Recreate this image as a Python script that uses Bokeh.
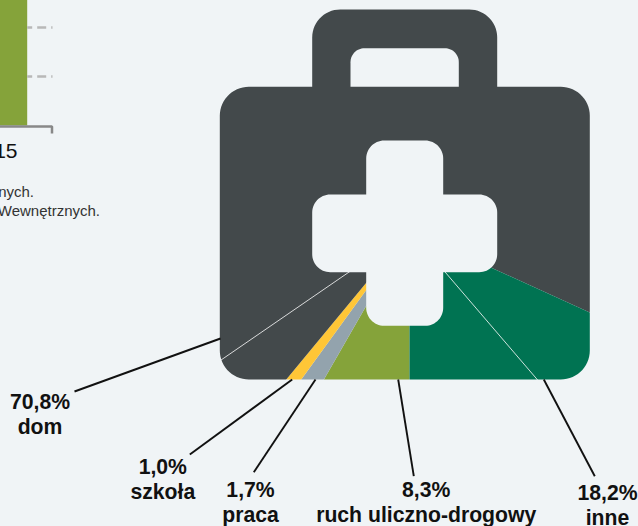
import numpy as np
from bokeh.plotting import figure
from bokeh.embed import file_html
from bokeh.resources import INLINE
from bokeh.core.properties import value

# Chart data, clockwise from straight down
CATEGORIES = ["ruch uliczno-drogowy", "praca", "szkoła", "dom", "inne"]
SHARES = [8.3, 1.7, 1.0, 70.8, 18.2]
COLORS = ["#85A33A", "#93A3AD", "#FFC637", "#43494B", "#007352"]
# Hairline seams visible inside the slices (degrees clockwise from straight down)
SEAMS = [55.5, 319.4]

W, H = 638, 526
BG = "#F0F4F6"
FONT = "Liberation Sans"


def Y(py):
    return H - np.asarray(py, dtype=float)


def fillet(points):
    """Closed outline from (x, y, radius) vertices given in page pixels."""
    out_x, out_y = [], []
    n = len(points)
    for i, (x, y, r) in enumerate(points):
        if r == 0:
            out_x.append(x)
            out_y.append(y)
            continue
        px, py, _ = points[i - 1]
        nx, ny, _ = points[(i + 1) % n]
        a = np.array([px - x, py - y], float)
        b = np.array([nx - x, ny - y], float)
        a /= np.linalg.norm(a)
        b /= np.linalg.norm(b)
        c = np.array([x, y]) + (a + b) * r
        start = np.arctan2(a[1] * r + y - c[1], a[0] * r + x - c[0])
        end = np.arctan2(b[1] * r + y - c[1], b[0] * r + x - c[0])
        d = (end - start + np.pi) % (2 * np.pi) - np.pi
        for t in np.linspace(0, 1, 16):
            out_x.append(c[0] + r * np.cos(start + d * t))
            out_y.append(c[1] + r * np.sin(start + d * t))
    return out_x, list(Y(out_y))


p = figure(width=W + 1, height=H + 1, x_range=(-1, W), y_range=(0, H + 1), output_backend="svg",
           toolbar_location=None, x_axis_location=None, y_axis_location=None,
           min_border=0, outline_line_color=None, background_fill_color=BG,
           border_fill_color=BG, margin=(-1, 0, 0, -1))
p.grid.visible = False

# Pie, masked below by the first-aid kit silhouette
cx, cy = 409.0, float(Y(230.0))
cum = np.cumsum([0] + SHARES) / sum(SHARES) * 2 * np.pi
p.wedge(x=cx, y=cy, radius=520, start_angle=-np.pi / 2 - cum[1:], end_angle=-np.pi / 2 - cum[:-1],
        fill_color=COLORS, line_color=None)
for s in SEAMS:
    th = np.radians(s)
    p.segment(cx, cy, cx - 520 * np.sin(th), cy - 520 * np.cos(th),
              line_color="#FFFFFF", line_width=0.8, line_alpha=1.0)

kit = fillet([(219.3, 86.3, 29), (311.7, 86.3, 0), (311.7, 9, 28), (496.7, 9, 28), (496.7, 86.3, 0),
              (589.3, 86.3, 29), (589.3, 379, 29), (219.3, 379, 29)])
frame = ([-5, W + 5, W + 5, -5], [-5, -5, H + 5, H + 5])
p.multi_polygons(xs=[[[frame[0], kit[0]]]], ys=[[[frame[1], kit[1]]]], fill_color=BG, line_color=None)

handle = fillet([(350, 86.3, 0), (350, 47.7, 14), (458.3, 47.7, 14), (458.3, 86.3, 0)])
p.patch(handle[0], handle[1], fill_color=BG, line_color=None)

cross = fillet([(365.7, 140, 18), (442.7, 140, 18), (442.7, 194, 0), (496.7, 194, 18), (496.7, 271.7, 18),
                (442.7, 271.7, 0), (442.7, 325.3, 18), (365.7, 325.3, 18), (365.7, 271.7, 0),
                (311.7, 271.7, 18), (311.7, 194, 18), (365.7, 194, 0)])
p.patch(cross[0], cross[1], fill_color=BG, line_color=None)

# Fragment of the neighbouring bar chart at the left edge
p.vbar(x=[10], width=33.4, bottom=[float(Y(125))], top=[float(Y(-5))], fill_color="#85A33A", line_color=None)
for gy in (27, 76):
    p.line([26.7, 52], [float(Y(gy))] * 2, line_color="#B8B8B8", line_width=2.5, line_dash="9 5", line_dash_offset=4)
p.line([-5, 51.5, 51.5], list(Y([126, 126, 133])), line_color="#888888", line_width=2.5)

LIFT = 0.40  # baseline to text middle, in em
p.text([17], [float(Y(159 - LIFT * 21))], text=["15"], text_align="right", text_baseline="middle",
       text_font=value(FONT), text_font_size="21px", text_color="#111111")
p.text([33.5, 99.5], list(Y(np.array([197.3, 216]) - LIFT * 15)), text=["nych.", "Wewnętrznych."], text_align="right",
       text_baseline="middle", text_font=value(FONT), text_font_size="15px", text_color="#333333")

# Leader lines
LEADERS = {
    "dom": ((74, 391), (220, 338)),
    "szkoła": ((189.3, 454), (291.7, 379)),
    "praca": ((253.3, 471.7), (315, 379)),
    "ruch uliczno-drogowy": ((413.3, 475.7), (397.7, 379)),
    "inne": ((594.3, 475.7), (543.3, 379)),
}
for (a, b) in LEADERS.values():
    p.line([a[0], b[0]], list(Y([a[1], b[1]])), line_color="#111111", line_width=1.9)

# Labels: centre x, baseline of value line, baseline of name line
PLACES = {
    "dom": (39.5, 409.3, 434),
    "szkoła": (162.3, 474.3, 499),
    "praca": (250, 497.3, 522.7),
    "ruch uliczno-drogowy": (425.7, 497.3, 522.7),
    "inne": (607, 500.7, 525),
}
for name, share in zip(CATEGORIES, SHARES):
    x, y1, y2 = PLACES[name]
    pct = f"{share:.1f}".replace(".", ",") + "%"
    p.text([x, x], list(Y(np.array([y1, y2]) - LIFT * 21.2)), text=[pct, name], text_align="center", text_baseline="middle",
           text_font=value(FONT), text_font_style="bold", text_font_size="21.2px", text_color="#111111")

open("out.html", "w").write(file_html(p, INLINE))
